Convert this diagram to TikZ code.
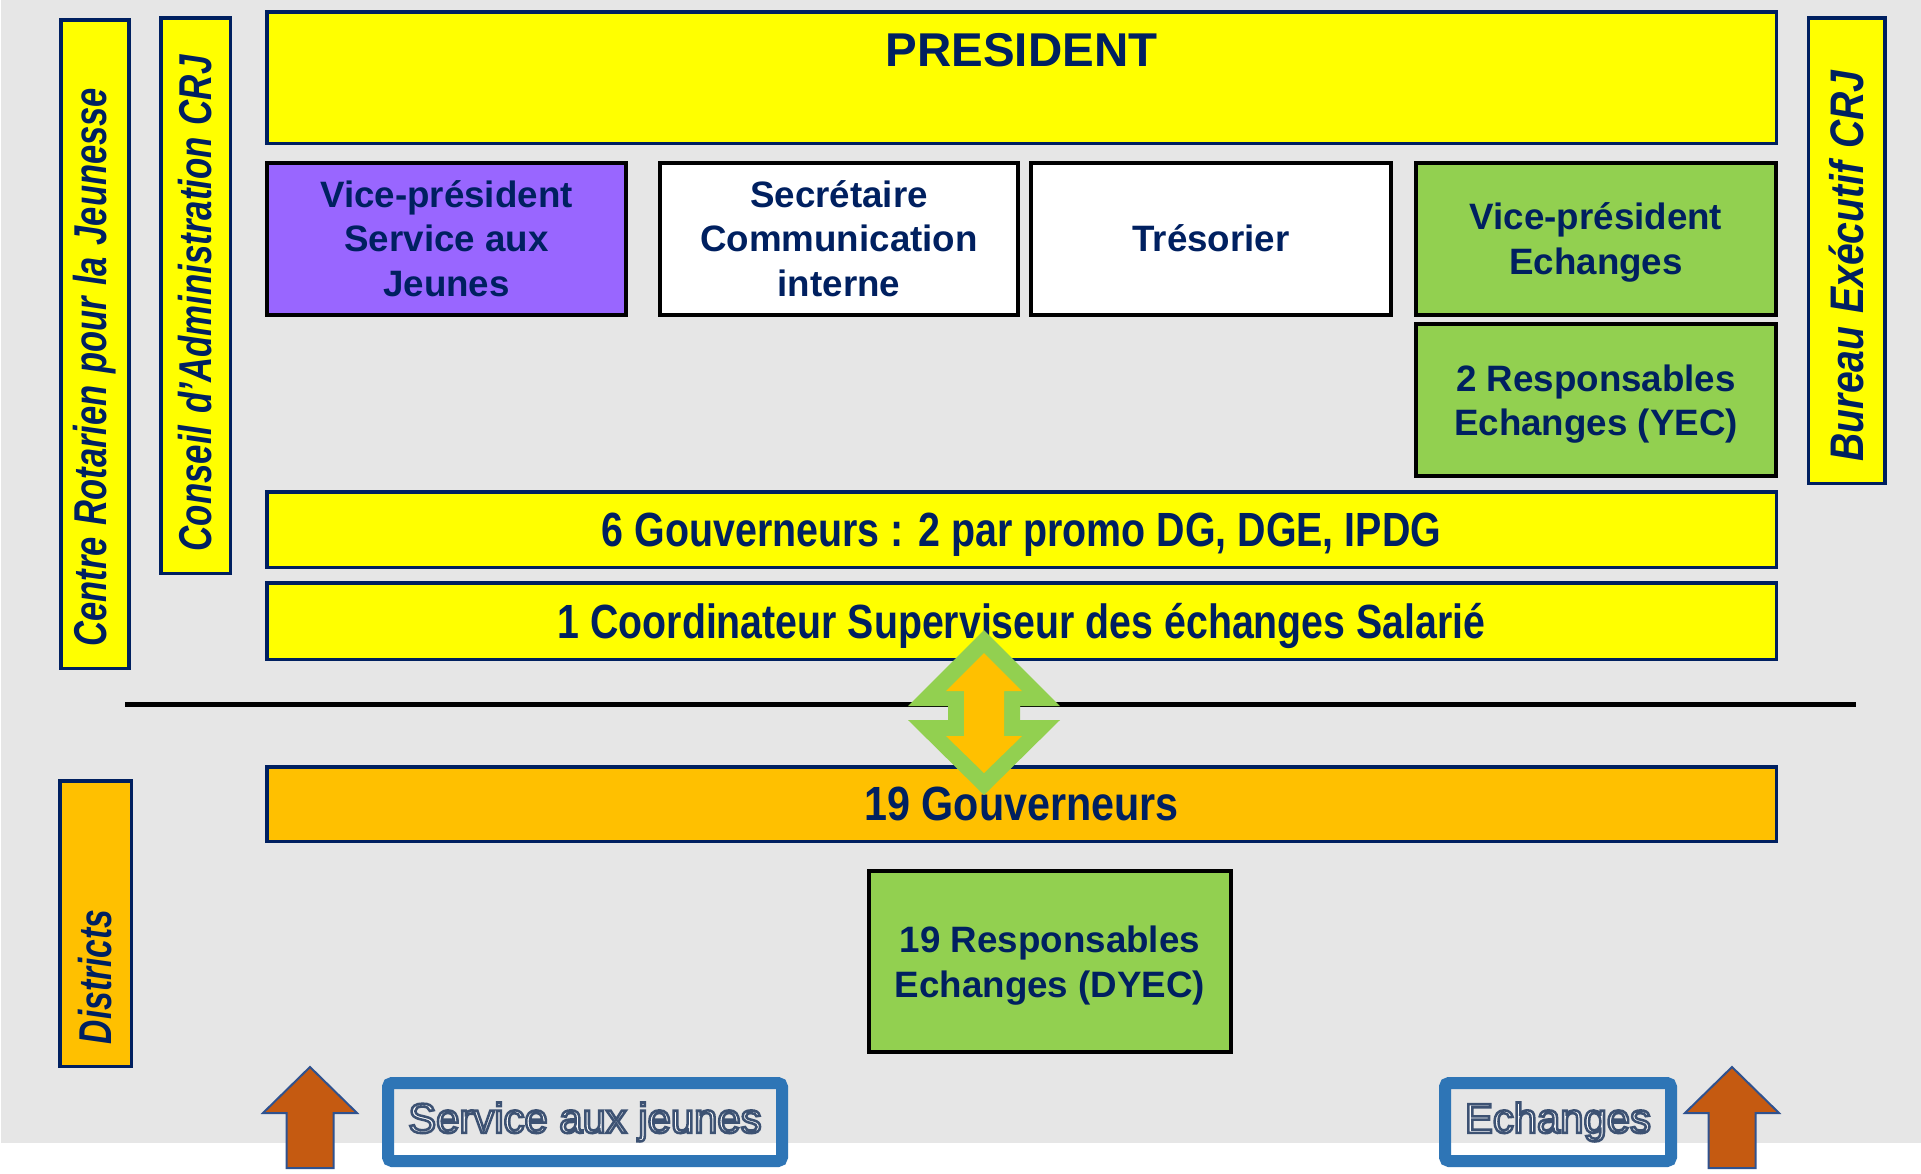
\documentclass[tikz,border=0pt]{standalone}
\usepackage{fontspec}
\setmainfont{Liberation Sans}
\usepackage{graphicx}
\definecolor{crjnavy}{HTML}{002060}
\definecolor{crjyellow}{HTML}{FFFF00}
\definecolor{crjpurple}{HTML}{9966FF}
\definecolor{crjgreen}{HTML}{92D050}
\definecolor{crjorange}{HTML}{FFC000}
\definecolor{bggrey}{HTML}{E6E6E6}
\definecolor{tagblue}{HTML}{2E75B6}
\definecolor{arrowbrown}{HTML}{C55A11}
\definecolor{arrowedge}{HTML}{2F528F}
\newcommand\outlined[1]{{\color{white}\special{pdf:literal direct 2 Tr 0.72 w 0.24 0.32 0.45 RG}#1\special{pdf:literal direct 0 Tr}}}

\begin{document}
\begin{tikzpicture}[x=1cm, y=-1cm,
  ybox/.style={draw=crjnavy, fill=crjyellow, line width=0.035cm, text=crjnavy, inner sep=0pt},
  kbox/.style={draw=black, line width=0.04cm, text=crjnavy, align=center, inner sep=0pt, text depth=0pt,
    font=\fontsize{10.45}{12.7}\selectfont\bfseries},
  vbox/.style={ybox, rotate=90, align=left, inner xsep=0.22cm, inner ysep=0pt,
    font=\fontsize{13.1}{15}\selectfont\bfseries\itshape},
  wide/.style={ybox, minimum width=15.095cm, text depth=0pt, font=\fontsize{13.66}{16}\selectfont\bfseries},
  tagbox/.style={draw=tagblue, line width=0.12cm, rounded corners=0.04cm, inner sep=0pt,
    minimum height=0.78cm, font=\fontsize{11.9}{13}\selectfont},
  uparrow/.style={fill=arrowbrown, draw=arrowedge, line width=0.02cm}]

  \useasboundingbox (0,0) rectangle (19.21,11.74);
  \fill[white] (0,0) rectangle (19.21,11.74);
  \fill[bggrey] (0.01,0) rectangle (19.21,11.43);

  \node[vbox, minimum width=6.485cm, minimum height=0.685cm, text width=6.045cm] (crj) at (0.95,3.44)
    {\scalebox{0.75}[1]{Centre Rotarien pour la Jeunesse}};
  \node[vbox, minimum width=5.555cm, minimum height=0.695cm, text width=5.115cm] (ca) at (1.955,2.955)
    {\scalebox{0.757}[1]{Conseil d’Administration CRJ}};
  \node[vbox, font=\fontsize{13.4}{15}\selectfont\bfseries\itshape, minimum width=4.655cm,
    minimum height=0.765cm, text width=4.215cm] (bur) at (18.465,2.505)
    {\scalebox{0.83}[1]{Bureau Exécutif CRJ}};
  \node[vbox, fill=crjorange, minimum width=2.855cm, minimum height=0.715cm, text width=2.415cm] (dist) at (0.955,9.235)
    {\scalebox{0.73}[1]{Districts}};

  \node[wide, font=\fontsize{13.5}{16}\selectfont\bfseries, text height=0.5425cm, text depth=0.7725cm] (pres) at (10.215,0.775) {PRESIDENT};

  \node[kbox, fill=crjpurple, minimum width=3.59cm, minimum height=1.52cm] (vps) at (4.465,2.385) {Vice-président\\Service aux\\Jeunes};
  \node[kbox, fill=white, minimum width=3.58cm, minimum height=1.52cm] (sec) at (8.39,2.385) {Secrétaire\\Communication\\interne};
  \node[kbox, fill=white, minimum width=3.60cm, minimum height=1.52cm] (tres) at (12.11,2.385) {Trésorier};
  \node[kbox, fill=crjgreen, minimum width=3.60cm, minimum height=1.52cm] (vpe) at (15.96,2.385) {Vice-président\\Echanges};
  \node[kbox, fill=crjgreen, minimum width=3.60cm, minimum height=1.52cm] (yec) at (15.96,4.0) {2 Responsables\\Echanges (YEC)};

  \node[wide, minimum height=0.755cm] (gov6) at (10.215,5.295) {\scalebox{0.82}[1]{6 Gouverneurs : 2 par promo DG, DGE, IPDG}};
  \node[wide, minimum height=0.765cm] (coord) at (10.215,6.21) {\scalebox{0.818}[1]{1 Coordinateur Superviseur des échanges Salarié}};
  \node[wide, fill=crjorange, minimum height=0.745cm] (gov19) at (10.215,8.04) {\scalebox{0.86}[1]{19 Gouverneurs}};

  \coordinate (sepl) at (1.25,7.04);
  \coordinate (sepr) at (18.56,7.04);
  \draw[line width=0.05cm] (sepl) -- (sepr);

  \coordinate (dbl) at (9.84,7.125);
  \begin{scope}[shift={(dbl)}]
    \fill[crjgreen] (0,-0.825) -- (0.76,-0.065) -- (0.36,-0.065) -- (0.36,0.075) -- (0.76,0.075) -- (0,0.825)
      -- (-0.76,0.075) -- (-0.36,0.075) -- (-0.36,-0.065) -- (-0.76,-0.065) -- cycle;
    \fill[crjorange] (0,-0.595) -- (0.38,-0.215) -- (0.2,-0.215) -- (0.2,0.235) -- (0.38,0.235) -- (0,0.605)
      -- (-0.38,0.235) -- (-0.2,0.235) -- (-0.2,-0.215) -- (-0.38,-0.215) -- cycle;
  \end{scope}

  \node[kbox, fill=crjgreen, minimum width=3.62cm, minimum height=1.81cm] (dyec) at (10.5,9.615) {19 Responsables\\Echanges (DYEC)};

  \node[tagbox, minimum width=3.94cm] (svc) at (5.85,11.22) {\outlined{Service aux jeunes}};
  \node[tagbox, minimum width=2.26cm] (ech) at (15.58,11.22) {\outlined{Echanges}};

  \coordinate (upl) at (3.10,10.67);
  \coordinate (upr) at (17.32,10.67);
  \draw[uparrow] (upl) -- ++(0.47,0.46) -- ++(-0.235,0) -- ++(0,0.55) -- ++(-0.47,0) -- ++(0,-0.55) -- ++(-0.235,0) -- cycle;
  \draw[uparrow] (upr) -- ++(0.47,0.46) -- ++(-0.235,0) -- ++(0,0.55) -- ++(-0.47,0) -- ++(0,-0.55) -- ++(-0.235,0) -- cycle;
\end{tikzpicture}
\end{document}
